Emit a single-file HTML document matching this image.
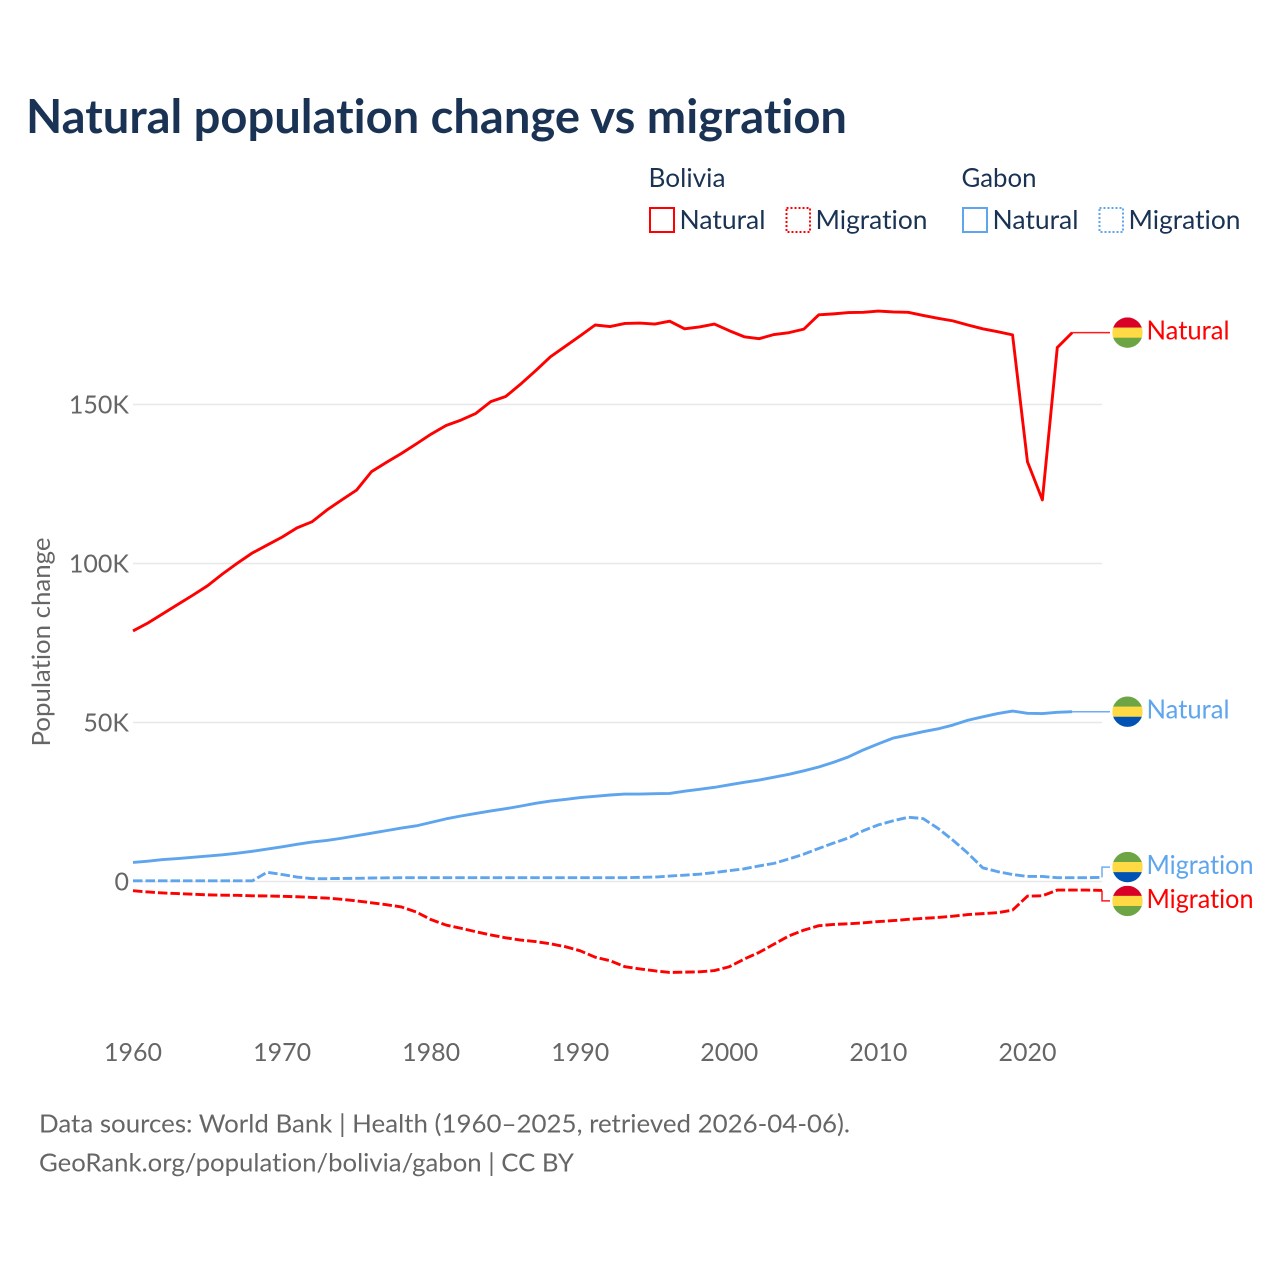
<!DOCTYPE html>
<html lang="en">
<head>
<meta charset="utf-8">
<title>Natural population change vs migration</title>
<style>
html,body{margin:0;padding:0;background:#fff;}
svg{display:block;}
text{font-family:Lato,Carlito,"Liberation Sans",sans-serif;font-variant-ligatures:none;font-feature-settings:"liga" 0,"clig" 0;}
</style>
</head>
<body>
<svg id="chart" xmlns="http://www.w3.org/2000/svg" width="1280" height="1280" viewBox="0 0 1280 1280">
  <rect x="0" y="0" width="1280" height="1280" fill="#ffffff"/>
  <text x="26" y="133" font-size="47" font-weight="700" fill="#1a3354" textLength="821" lengthAdjust="spacingAndGlyphs">Natural population change vs migration</text>

  <g>
    <text x="648.5" y="187" font-size="26" fill="#1a3354" textLength="77" lengthAdjust="spacingAndGlyphs">Bolivia</text>
    <text x="961.5" y="187" font-size="26" fill="#1a3354" textLength="75" lengthAdjust="spacingAndGlyphs">Gabon</text>
    <rect x="650" y="208" width="24" height="24" fill="none" stroke="#ff0000" stroke-width="2"/>
    <text x="679.5" y="229" font-size="26" fill="#1a3354" textLength="86" lengthAdjust="spacingAndGlyphs">Natural</text>
    <rect x="786.5" y="208" width="23.5" height="24" fill="none" stroke="#ff0000" stroke-width="2" stroke-dasharray="2 2"/>
    <text x="815.5" y="229" font-size="26" fill="#1a3354" textLength="112" lengthAdjust="spacingAndGlyphs">Migration</text>
    <rect x="963" y="208" width="24" height="24" fill="none" stroke="#5ea5ee" stroke-width="2"/>
    <text x="992.5" y="229" font-size="26" fill="#1a3354" textLength="86" lengthAdjust="spacingAndGlyphs">Natural</text>
    <rect x="1099.5" y="208" width="23.5" height="24" fill="none" stroke="#5ea5ee" stroke-width="2" stroke-dasharray="2 2"/>
    <text x="1128.5" y="229" font-size="26" fill="#1a3354" textLength="112" lengthAdjust="spacingAndGlyphs">Migration</text>
  </g>

  <text transform="translate(50,642) rotate(-90)" text-anchor="middle" font-size="25" fill="#666666" textLength="209" lengthAdjust="spacingAndGlyphs">Population change</text>

  <g id="grid"></g>
  <g id="yticks"></g>
  <g id="xticks"></g>
  <g id="series"></g>
  <g id="endmarks"></g>

  <text x="39" y="1132.5" font-size="25" fill="#666666" textLength="811" lengthAdjust="spacingAndGlyphs">Data sources: World Bank | Health (1960–2025, retrieved 2026-04-06).</text>
  <text x="39" y="1171.5" font-size="25" fill="#666666" textLength="535" lengthAdjust="spacingAndGlyphs">GeoRank.org/population/bolivia/gabon | CC BY</text>
</svg>

<script>
const startYear = 1960;
const endYear = 2025;
const xTickYears = [1960, 1970, 1980, 1990, 2000, 2010, 2020];
const yTickValues = [0, 50, 100, 150];
const yTickLabels = ["0", "50K", "100K", "150K"];

// Values in thousands, one per year from 1960.
const boliviaNatural = [
  78.8, 81.3, 84.2, 87.1, 90.0, 93.0, 96.7, 100.1, 103.3, 105.8,
  108.3, 111.2, 113.1, 116.8, 120.0, 123.1, 128.9, 131.8, 134.6, 137.6,
  140.7, 143.4, 145.1, 147.2, 150.9, 152.5, 156.4, 160.6, 165.0, 168.3,
  171.6, 175.0, 174.5, 175.5, 175.6, 175.3, 176.2, 173.8, 174.4, 175.3,
  173.2, 171.3, 170.7, 172.0, 172.6, 173.7, 178.2, 178.5, 178.9, 179.0,
  179.4, 179.1, 179.0, 178.0, 177.1, 176.3, 175.0, 173.8, 172.9, 171.9,
  132.0, 120.0, 167.9, 172.6
];
const boliviaMigration = [
  -2.9, -3.3, -3.6, -3.8, -4.0, -4.2, -4.3, -4.35, -4.5, -4.55,
  -4.65, -4.8, -5.0, -5.2, -5.6, -6.1, -6.7, -7.3, -8.0, -9.6,
  -12.0, -13.7, -14.7, -15.8, -16.8, -17.7, -18.4, -18.9, -19.6, -20.5,
  -21.8, -23.8, -24.9, -26.8, -27.5, -28.1, -28.6, -28.5, -28.4, -28.0,
  -26.8, -24.4, -22.3, -19.7, -17.1, -15.3, -13.9, -13.5, -13.3, -13.0,
  -12.6, -12.3, -11.9, -11.6, -11.3, -10.9, -10.4, -10.1, -9.8, -9.0,
  -4.6, -4.5, -2.7, -2.7, -2.7, -2.8
];
const gabonNatural = [
  6.0, 6.4, 6.9, 7.2, 7.6, 8.0, 8.4, 8.9, 9.5, 10.2,
  10.9, 11.7, 12.4, 12.9, 13.6, 14.4, 15.2, 16.0, 16.8, 17.5,
  18.6, 19.7, 20.6, 21.4, 22.2, 22.9, 23.7, 24.6, 25.3, 25.8,
  26.4, 26.8, 27.2, 27.5, 27.5, 27.6, 27.7, 28.4, 29.0, 29.6,
  30.4, 31.2, 31.9, 32.8, 33.7, 34.8, 36.0, 37.5, 39.2, 41.4,
  43.3, 45.1, 46.1, 47.1, 48.0, 49.2, 50.7, 51.8, 52.8, 53.6,
  52.9, 52.8, 53.2, 53.4
];
const gabonMigration = [
  0.2, 0.2, 0.2, 0.2, 0.2, 0.2, 0.2, 0.2, 0.2, 2.9,
  2.2, 1.4, 0.9, 0.9, 0.95, 1.0, 1.1, 1.15, 1.2, 1.2,
  1.2, 1.2, 1.2, 1.2, 1.2, 1.2, 1.2, 1.2, 1.2, 1.2,
  1.2, 1.2, 1.2, 1.2, 1.3, 1.4, 1.7, 2.0, 2.3, 2.8,
  3.4, 4.0, 4.9, 5.7, 7.1, 8.6, 10.4, 12.1, 13.7, 16.0,
  17.8, 19.1, 20.2, 19.8, 16.7, 13.0, 8.9, 4.3, 3.1, 2.2,
  1.6, 1.6, 1.2, 1.2, 1.2, 1.3
];

const NS = 'http://www.w3.org/2000/svg';
const PLOT_LEFT = 133;
const PLOT_RIGHT = 1102;
const ZERO_Y = 881.5;
const PX_PER_K = 3.18;
const RED = '#ff0000';
const BLUE = '#5ea5ee';

function xScale(year) {
  return PLOT_LEFT + (year - startYear) * (PLOT_RIGHT - PLOT_LEFT) / (endYear - startYear);
}
function yScale(value) {
  return ZERO_Y - value * PX_PER_K;
}
function make(tag, attrs, parent) {
  const el = document.createElementNS(NS, tag);
  for (const k in attrs) el.setAttribute(k, attrs[k]);
  parent.appendChild(el);
  return el;
}

const grid = document.getElementById('grid');
const yticks = document.getElementById('yticks');
const xticks = document.getElementById('xticks');
const series = document.getElementById('series');
const endmarks = document.getElementById('endmarks');

yTickValues.forEach(function (v, i) {
  const line = make('line', {x1: PLOT_LEFT, x2: PLOT_RIGHT, y1: yScale(v), y2: yScale(v), stroke: '#e8e8e8', 'stroke-width': 1.4}, grid);
  
  
  const t = make('text', {x: 129, y: yScale(v) + 9, 'text-anchor': 'end', 'font-size': 25, fill: '#666666'}, yticks);
  t.textContent = yTickLabels[i];
  
  
});

xTickYears.forEach(function (yr) {
  const t = make('text', {x: xScale(yr), y: 1061, 'text-anchor': 'middle', 'font-size': 25, fill: '#666666'}, xticks);
  t.textContent = String(yr);
  
  
});

function drawSeries(values, color, dashed, name) {
  const pts = values.map(function (v, i) {
    return xScale(startYear + i).toFixed(2) + ',' + yScale(v).toFixed(2);
  }).join(' ');
  const attrs = {points: pts, fill: 'none', stroke: color, 'stroke-width': 2.9, 'stroke-linejoin': 'round'};
  if (dashed) attrs['stroke-dasharray'] = '9.5 3';
  const el = make('polyline', attrs, series);
  
  
}
drawSeries(gabonNatural, BLUE, false, 'line-gabon-natural');
drawSeries(gabonMigration, BLUE, true, 'line-gabon-migration');
drawSeries(boliviaNatural, RED, false, 'line-bolivia-natural');
drawSeries(boliviaMigration, RED, true, 'line-bolivia-migration');

const FLAG_X = 1127.5;
const FLAG_R = 15.2;
const BOLIVIA_STRIPES = ['#d80027', '#ffda44', '#6da544'];
const GABON_STRIPES = ['#6da544', '#ffda44', '#0052b4'];
let clipCount = 0;

function drawFlag(cy, stripes, name) {
  const id = 'flag-clip-' + (clipCount++);
  const clip = make('clipPath', {id: id}, endmarks);
  make('circle', {cx: FLAG_X, cy: cy, r: FLAG_R}, clip);
  const g = make('g', {'clip-path': 'url(#' + id + ')'}, endmarks);
  
  
  const top = cy - FLAG_R;
  const band = FLAG_R * 2 / 3;
  stripes.forEach(function (c, i) {
    make('rect', {x: FLAG_X - FLAG_R, y: top + i * band, width: FLAG_R * 2, height: band + 0.3, fill: c}, g);
  });
}

function drawEnd(values, color, labelOffset, text, stripes, key, labelWidth) {
  const lastIdx = values.length - 1;
  const x0 = xScale(startYear + lastIdx);
  const y0 = yScale(values[lastIdx]);
  const yEnd = y0 + labelOffset;
  const d = labelOffset === 0
    ? 'M' + x0 + ' ' + y0 + ' H1110'
    : 'M' + x0 + ' ' + y0 + ' V' + yEnd + ' H1110';
  const leader = make('path', {d: d, fill: 'none', stroke: color, 'stroke-width': 1.5, 'stroke-opacity': 0.9}, endmarks);
  
  
  drawFlag(yEnd, stripes, 'flag-' + key);
  const t = make('text', {x: 1146.5, y: yEnd + 7, 'font-size': 26, fill: color, textLength: labelWidth, lengthAdjust: 'spacingAndGlyphs'}, endmarks);
  t.textContent = text;
  
  
}
drawEnd(boliviaNatural, RED, 0, 'Natural', BOLIVIA_STRIPES, 'bolivia-natural', 83);
drawEnd(gabonNatural, BLUE, 0, 'Natural', GABON_STRIPES, 'gabon-natural', 83);
drawEnd(gabonMigration, BLUE, -10.3, 'Migration', GABON_STRIPES, 'gabon-migration', 107);
drawEnd(boliviaMigration, RED, 10.5, 'Migration', BOLIVIA_STRIPES, 'bolivia-migration', 107);
</script>
</body>
</html>
